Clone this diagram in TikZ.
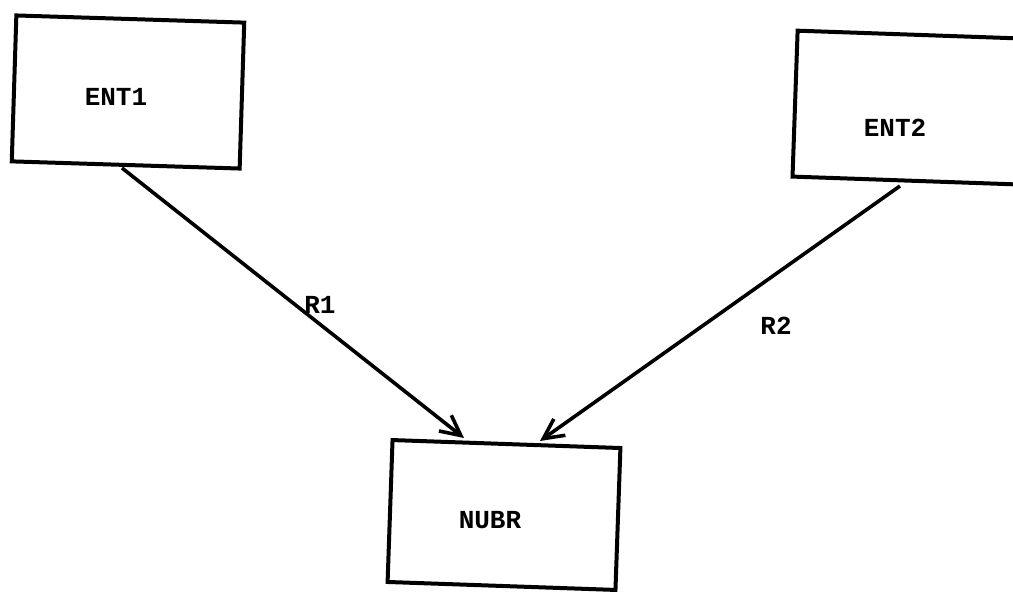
\documentclass[tikz,border=0pt]{standalone}
\usepackage{fontspec}
\setmonofont{Liberation Mono}
\usetikzlibrary{arrows.meta}
\begin{document}
\begin{tikzpicture}[x=1pt,y=-1pt,
  ent/.style={draw=black, line width=4pt, minimum width=228pt, minimum height=146pt, inner sep=0pt},
  lbl/.style={font=\ttfamily\bfseries\fontsize{26}{30}\selectfont, inner sep=0pt},
  rel/.style={line width=3.6pt, -{Straight Barb[length=20pt, width=20pt, line width=3.6pt]}}]
\useasboundingbox[fill=white] (0,0) rectangle (1013,593);
\begin{scope}
\clip (0,0) rectangle (1013,593);
\node[ent, rotate=-1.8] (ent1) at (128,92) {};
\node[ent, rotate=-2, minimum width=250pt, minimum height=146pt] (ent2) at (920,108) {};
\node[ent, rotate=-2, minimum height=142pt] (nubr) at (504,515) {};
\end{scope}
\node[lbl] (t1) at (116,97) {ENT1};
\node[lbl] (t2) at (895,128) {ENT2};
\node[lbl] (t3) at (490,520) {NUBR};
\coordinate (s1) at (122,168);
\coordinate (e1) at (464,438);
\coordinate (s2) at (900,186);
\coordinate (e2) at (540,441);
\draw[rel] (s1) -- (e1);
\draw[rel] (s2) -- (e2);
\node[lbl] (r1) at (320,305) {R1};
\node[lbl] (r2) at (776,326) {R2};
\end{tikzpicture}
\end{document}
